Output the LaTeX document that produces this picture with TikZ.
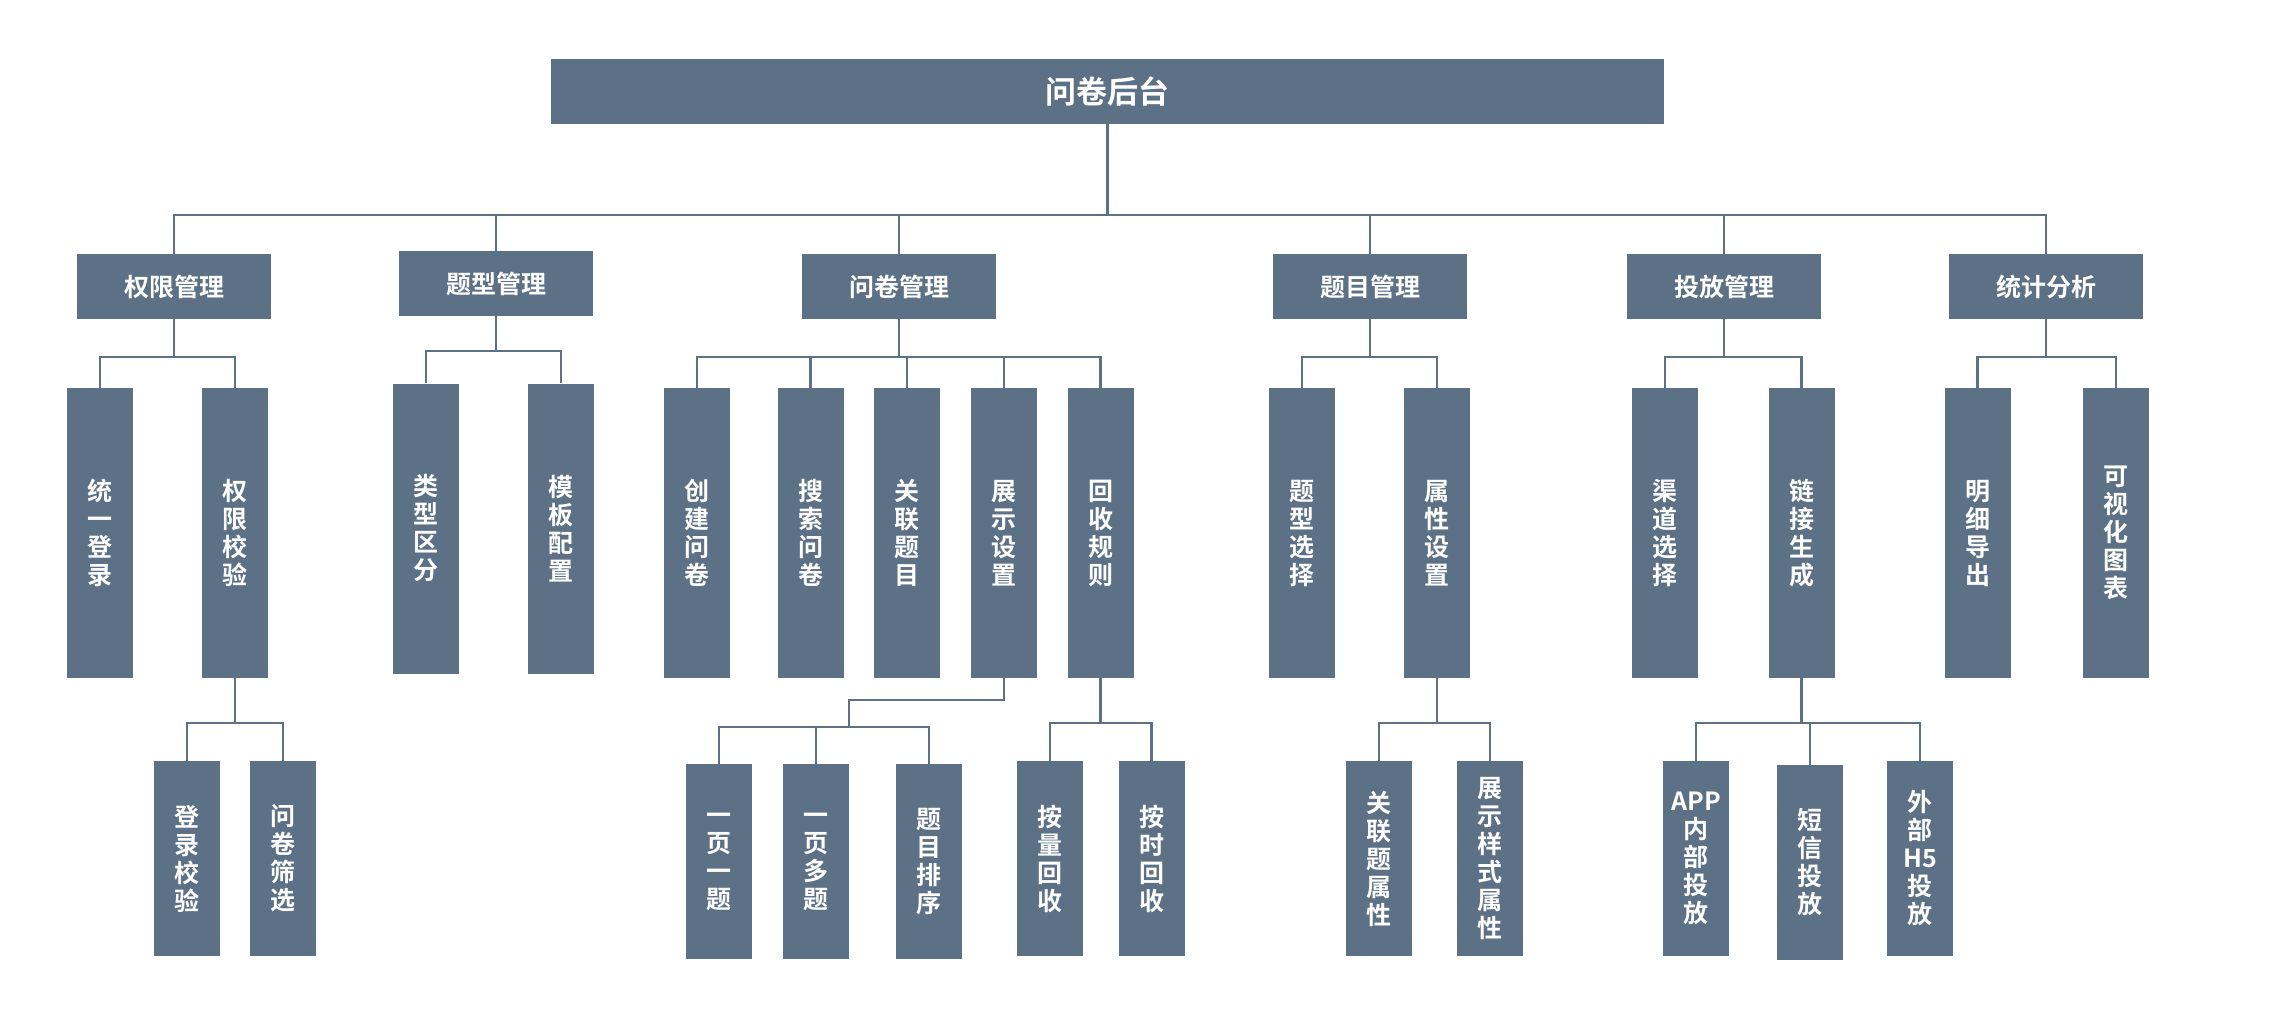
\documentclass[tikz,border=0pt]{standalone}
\usepackage{fontspec}
\newfontfamily\cjk{Noto Sans CJK SC Bold}
\definecolor{boxcolor}{RGB}{92,112,134}
\newlength{\du}
\setlength{\du}{0.5pt}
\tikzset{
  box/.style={fill=boxcolor, text=white, inner sep=0pt, align=center,
    font=\cjk\fontsize{12.5}{14}\selectfont},
  rootbox/.style={box, minimum width=1113\du, minimum height=65\du,
    font=\cjk\fontsize{15.5}{18}\selectfont},
  groupbox/.style={box, minimum width=194\du, minimum height=65\du},
  itembox/.style={box, minimum width=66\du, minimum height=290\du},
  leafbox/.style={box, minimum width=66\du, minimum height=195\du},
  wire/.style={draw=boxcolor, line width=1.4pt},
}

\begin{document}
\begin{tikzpicture}[x=\du,y=-\du]
\useasboundingbox (0,0) rectangle (2290,1008);
% root
\node[rootbox] (root) at (1107.5,91.5) {问卷后台};
% first level
\node[groupbox] (qx) at (174,286.5) {权限管理};
\node[groupbox] (tx) at (496,283.5) {题型管理};
\node[groupbox] (wj) at (899,286.5) {问卷管理};
\node[groupbox] (tm) at (1370,286.5) {题目管理};
\node[groupbox] (tf) at (1724,286.5) {投放管理};
\node[groupbox] (tj) at (2046,286.5) {统计分析};
% second level
\node[itembox] (tydl) at (100,533) {统\\一\\登\\录};
\node[itembox] (qxjy) at (235,533) {权\\限\\校\\验};
\node[itembox] (lxqf) at (426,528.5) {类\\型\\区\\分};
\node[itembox] (mbpz) at (561,528.5) {模\\板\\配\\置};
\node[itembox] (cjwj) at (697,533) {创\\建\\问\\卷};
\node[itembox] (sswj) at (810.5,533) {搜\\索\\问\\卷};
\node[itembox] (gltm) at (907,533) {关\\联\\题\\目};
\node[itembox] (zssz) at (1004,533) {展\\示\\设\\置};
\node[itembox] (hsgz) at (1100.5,533) {回\\收\\规\\则};
\node[itembox] (txxz) at (1302,533) {题\\型\\选\\择};
\node[itembox] (sxsz) at (1437,533) {属\\性\\设\\置};
\node[itembox] (qdxz) at (1665,533) {渠\\道\\选\\择};
\node[itembox] (ljsc) at (1801.5,533) {链\\接\\生\\成};
\node[itembox] (mxdc) at (1977.5,533) {明\\细\\导\\出};
\node[itembox] (kshtb) at (2116,533) {可\\视\\化\\图\\表};
% third level
\node[leafbox] (dljy) at (187,858.5) {登\\录\\校\\验};
\node[leafbox] (wjsx) at (283,858.5) {问\\卷\\筛\\选};
\node[leafbox] (yyyt) at (719,861.5) {一\\页\\一\\题};
\node[leafbox] (yydt) at (816,861.5) {一\\页\\多\\题};
\node[leafbox] (tmpx) at (929,861.5) {题\\目\\排\\序};
\node[leafbox] (alhs) at (1050,858.5) {按\\量\\回\\收};
\node[leafbox] (ashs) at (1151.5,858.5) {按\\时\\回\\收};
\node[leafbox] (gltsx) at (1379,858.5) {关\\联\\题\\属\\性};
\node[leafbox] (zsyssx) at (1490,858.5) {展\\示\\样\\式\\属\\性};
\node[leafbox] (appnb) at (1696,858.5) {APP\\内\\部\\投\\放};
\node[leafbox] (dxtf) at (1810,862.5) {短\\信\\投\\放};
\node[leafbox] (wbtf) at (1920,858.5) {外\\部\\H5\\投\\放};
% bus heights
\coordinate (bus0) at (0,215);
\coordinate (bus1) at (0,357);
\coordinate (bus1b) at (0,351);
\coordinate (bus2) at (0,723);
\coordinate (zsk) at (849,700);
\coordinate (zsb) at (849,727);
% connectors
\foreach \g in {qx,tx,wj,tm,tf,tj}
  \draw[wire] (root.south) -- (root.south |- bus0) -| (\g.north);
\foreach \p/\c/\b in {qx/tydl/bus1, qx/qxjy/bus1, tx/lxqf/bus1b, tx/mbpz/bus1b,
    wj/cjwj/bus1, wj/sswj/bus1, wj/gltm/bus1, wj/zssz/bus1, wj/hsgz/bus1,
    tm/txxz/bus1, tm/sxsz/bus1, tf/qdxz/bus1, tf/ljsc/bus1,
    tj/mxdc/bus1, tj/kshtb/bus1,
    qxjy/dljy/bus2, qxjy/wjsx/bus2, hsgz/alhs/bus2, hsgz/ashs/bus2,
    sxsz/gltsx/bus2, sxsz/zsyssx/bus2,
    ljsc/appnb/bus2, ljsc/dxtf/bus2, ljsc/wbtf/bus2}
  \draw[wire] (\p.south) -- (\p.south |- \b) -| (\c.north);
\draw[wire] (zssz.south) |- (zsk) -- (zsb);
\foreach \c in {yyyt,yydt,tmpx}
  \draw[wire] (zsb) -| (\c.north);
\end{tikzpicture}
\end{document}
